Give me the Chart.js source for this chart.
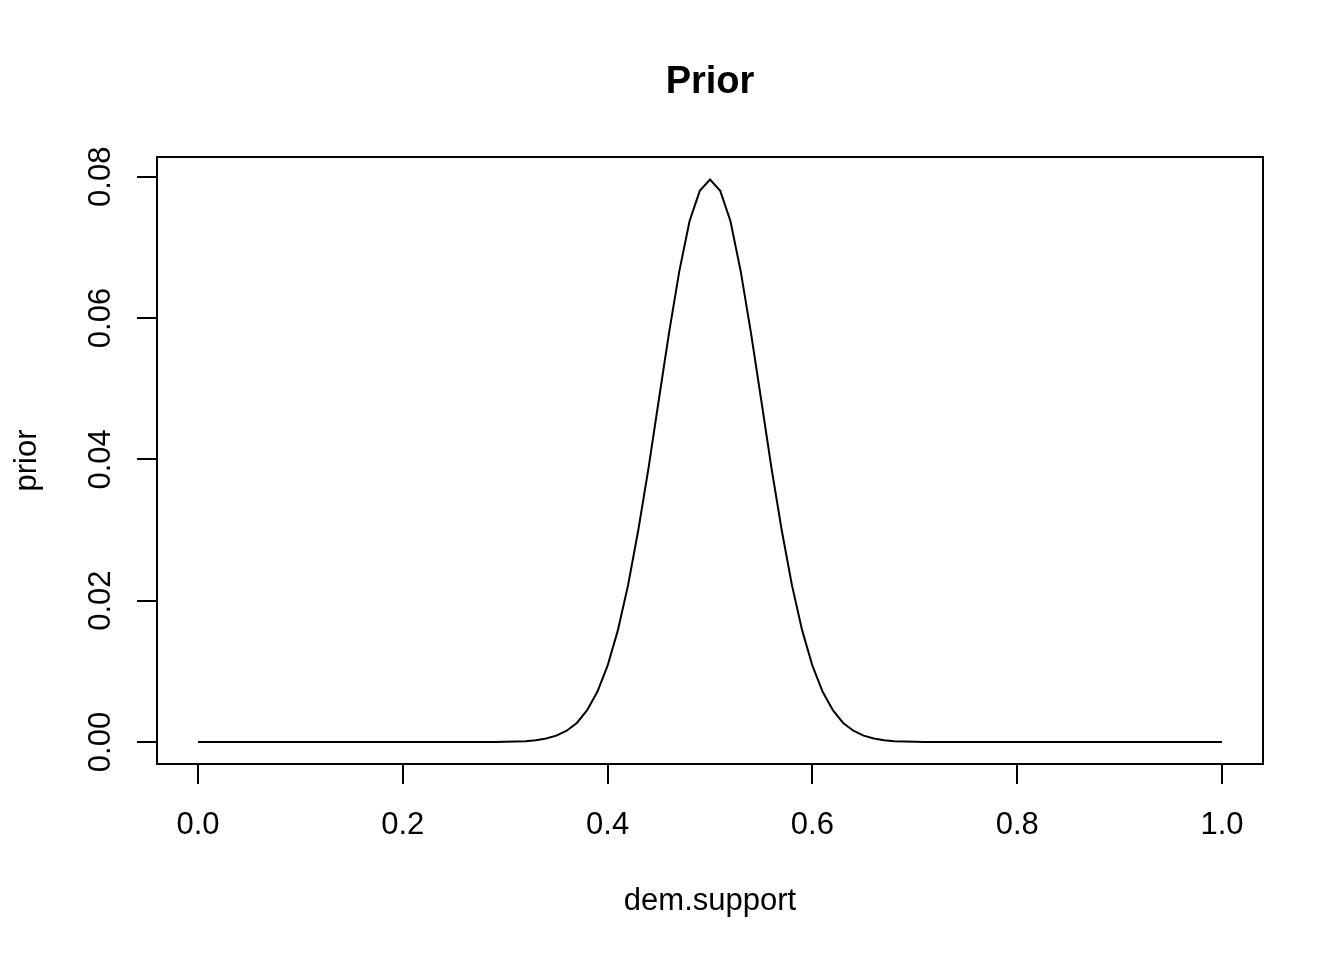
<!DOCTYPE html>
<html>
<head>
<meta charset="utf-8">
<script src="https://cdn.jsdelivr.net/npm/chart.js@4/dist/chart.umd.min.js"></script>
<style>
html,body{margin:0;padding:0;background:#fff;}
#wrap{width:1344px;height:960px;position:relative;}
</style>
</head>
<body>
<div id="wrap"><canvas id="c" width="1344" height="960"></canvas></div>
<script>
// ---- data ----
const demSupport = [
0.00,0.01,0.02,0.03,0.04,0.05,0.06,0.07,0.08,0.09,
0.10,0.11,0.12,0.13,0.14,0.15,0.16,0.17,0.18,0.19,
0.20,0.21,0.22,0.23,0.24,0.25,0.26,0.27,0.28,0.29,
0.30,0.31,0.32,0.33,0.34,0.35,0.36,0.37,0.38,0.39,
0.40,0.41,0.42,0.43,0.44,0.45,0.46,0.47,0.48,0.49,
0.50,0.51,0.52,0.53,0.54,0.55,0.56,0.57,0.58,0.59,
0.60,0.61,0.62,0.63,0.64,0.65,0.66,0.67,0.68,0.69,
0.70,0.71,0.72,0.73,0.74,0.75,0.76,0.77,0.78,0.79,
0.80,0.81,0.82,0.83,0.84,0.85,0.86,0.87,0.88,0.89,
0.90,0.91,0.92,0.93,0.94,0.95,0.96,0.97,0.98,0.99,
1.00];
const prior = [
0,0,0,0,0,0,0,0,0,0,
0,0,0,0,0,0,0,0,0,0,
0,0,0,0,0,0,0,0,0,0,
0.00003,0.00006,0.00012,0.00025,0.0005,0.0009,0.0016,0.0027,0.0045,0.0071,
0.0108,0.0158,0.0222,0.0300,0.0388,0.0484,0.0579,0.0666,0.0737,0.0780,
0.0796,
0.0780,0.0737,0.0666,0.0579,0.0484,0.0388,0.0300,0.0222,0.0158,0.0108,
0.0071,0.0045,0.0027,0.0016,0.0009,0.0005,0.00025,0.00012,0.00006,0.00003,
0,0,0,0,0,0,0,0,0,0,
0,0,0,0,0,0,0,0,0,0,
0,0,0,0,0,0,0,0,0,0];
const xTicks = [0, 0.2, 0.4, 0.6, 0.8, 1.0];
const xTickLabels = ["0.0","0.2","0.4","0.6","0.8","1.0"];
const yTicks = [0, 0.02, 0.04, 0.06, 0.08];
const yTickLabels = ["0.00","0.02","0.04","0.06","0.08"];
const titleText = "Prior";
const xTitle = "dem.support";
const yTitle = "prior";

const FONT = '"Liberation Sans", Arial, Helvetica, sans-serif';

const points = demSupport.map((x,i)=>({x:x,y:prior[i]}));

const rPlot = {
  id:'rPlot',
  afterDraw(chart){
    const ctx = chart.ctx;
    const a = chart.chartArea;
    const xs = chart.scales.x, ys = chart.scales.y;
    const cx = (a.left+a.right)/2;
    ctx.save();
    // box
    ctx.strokeStyle = '#000';
    ctx.lineWidth = 2;
    ctx.strokeRect(a.left, a.top, a.right-a.left, a.bottom-a.top);
    ctx.fillStyle = '#000';
    // title
    ctx.font = 'bold 38px ' + FONT;
    ctx.textAlign = 'center';
    ctx.textBaseline = 'alphabetic';
    ctx.fillText(titleText, cx, 93);
    ctx.font = '31px ' + FONT;
    // x tick labels
    xTicks.forEach((v,i)=>{
      ctx.fillText(xTickLabels[i], xs.getPixelForValue(v), 834);
    });
    // y tick labels rotated
    yTicks.forEach((v,i)=>{
      ctx.save();
      ctx.translate(110, ys.getPixelForValue(v));
      ctx.rotate(-Math.PI/2);
      ctx.textAlign = 'center';
      ctx.fillText(yTickLabels[i], 0, 0);
      ctx.restore();
    });
    // axis titles
    ctx.fillText(xTitle, cx, 910);
    ctx.save();
    ctx.translate(36, (a.top+a.bottom)/2);
    ctx.rotate(-Math.PI/2);
    ctx.textAlign = 'center';
    ctx.fillText(yTitle, 0, 0);
    ctx.restore();
    ctx.restore();
  }
};

new Chart(document.getElementById('c'), {
  type: 'line',
  data: {
    datasets: [{
      data: points,
      borderColor: '#000',
      borderWidth: 2,
      pointRadius: 0,
      tension: 0,
      fill: false
    }]
  },
  options: {
    responsive: false,
    animation: false,
    devicePixelRatio: 1,
    layout: { padding: { left: 0, right: 81, top: 157, bottom: 0 } },
    plugins: {
      legend: { display: false },
      tooltip: { enabled: false },
      title: { display: false }
    },
    scales: {
      x: {
        type: 'linear',
        min: -0.04, max: 1.04,
        afterBuildTicks(s){ s.ticks = xTicks.map(v=>({value:v})); },
        afterFit(s){ s.height = 196; },
        grid: { drawOnChartArea: false, drawTicks: true, tickLength: 20, color: '#000', lineWidth: 2 },
        border: { display: true, color: '#000', width: 2 },
        ticks: { display: false }
      },
      y: {
        type: 'linear',
        min: -0.00311, max: 0.08279,
        afterBuildTicks(s){ s.ticks = yTicks.map(v=>({value:v})); },
        afterFit(s){ s.width = 157; },
        grid: { drawOnChartArea: false, drawTicks: true, tickLength: 20, color: '#000', lineWidth: 2 },
        border: { display: true, color: '#000', width: 2 },
        ticks: { display: false }
      }
    }
  },
  plugins: [rPlot]
});
</script>
</body>
</html>
